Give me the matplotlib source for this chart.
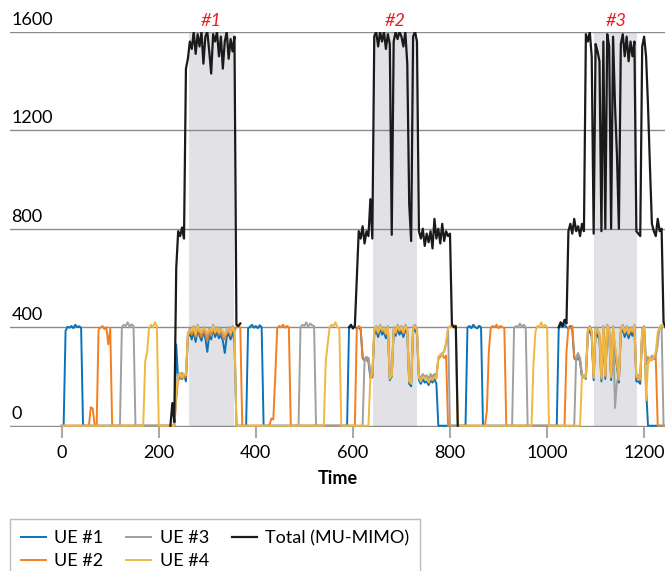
import numpy as np
import matplotlib
matplotlib.use("Agg")
import matplotlib.pyplot as plt

# samples every 4 time units, 0 .. 1244
time = np.arange(0, 1248, 4)

ue1 = [
    0, 0, 385, 402, 398, 405, 396, 410, 400, 404,        # 0
    398, 0, 0, 0, 0, 0, 0, 0, 0, 0,                      # 40
    0, 0, 0, 0, 0, 0, 0, 0, 0, 0,                        # 80
    0, 0, 0, 0, 0, 0, 0, 0, 0, 0,                        # 120
    0, 0, 0, 0, 0, 0, 0, 0, 0, 0,                        # 160
    0, 0, 0, 0, 0, 0, 0, 0, 0, 330,                      # 200
    185, 200, 190, 205, 180, 360, 375, 350, 385, 340,    # 240
    390, 365, 345, 380, 355, 300, 370, 350, 395, 360,    # 280
    380, 355, 370, 345, 295, 360, 375, 350, 385, 340,    # 320
    0, 0, 0, 0, 0, 0, 395, 402, 410, 398,                # 360
    405, 396, 408, 400, 0, 0, 0, 0, 0, 0,                # 400
    0, 0, 0, 0, 0, 0, 0, 0, 0, 0,                        # 440
    0, 0, 0, 0, 0, 0, 0, 0, 0, 0,                        # 480
    0, 0, 0, 0, 0, 0, 0, 0, 0, 0,                        # 520
    0, 0, 0, 0, 0, 0, 0, 0, 395, 405,                    # 560
    398, 402, 395, 400, 390, 275, 265, 270, 260, 195,    # 600
    200, 370, 385, 360, 395, 370, 380, 355, 390, 185,    # 640
    200, 380, 365, 395, 370, 385, 360, 390, 375, 170,    # 680
    160, 380, 395, 370, 185, 170, 190, 175, 180, 165,    # 720
    185, 175, 190, 170, 0, 0, 0, 0, 0, 0,                # 760
    0, 0, 0, 0, 0, 0, 0, 0, 0, 398,                      # 800
    405, 396, 410, 400, 395, 406, 400, 0, 0, 0,          # 840
    0, 0, 0, 0, 0, 0, 0, 0, 0, 0,                        # 880
    0, 0, 0, 0, 0, 0, 0, 0, 0, 0,                        # 920
    0, 0, 0, 0, 0, 0, 0, 0, 0, 0,                        # 960
    0, 0, 0, 0, 0, 0, 395, 405, 400, 410,                # 1000
    400, 395, 405, 390, 275, 265, 280, 260, 195, 205,    # 1040
    190, 370, 390, 360, 185, 380, 365, 350, 180, 385,    # 1080
    190, 395, 370, 185, 385, 300, 240, 175, 375, 390,    # 1120
    360, 385, 355, 380, 365, 390, 180, 180, 170, 375,    # 1160
    390, 150, 0, 0, 0, 0, 0, 0, 0, 0,                    # 1200
    0, 0,                                                # 1240
]

ue2 = [
    0, 0, 0, 0, 0, 0, 0, 0, 0, 0,                        # 0
    0, 0, 0, 0, 0, 75, 70, 0, 0, 390,                    # 40
    398, 405, 392, 400, 330, 395, 0, 0, 0, 0,            # 80
    0, 0, 0, 0, 0, 0, 0, 0, 0, 0,                        # 120
    0, 0, 0, 0, 0, 0, 0, 0, 0, 0,                        # 160
    0, 0, 0, 0, 0, 0, 0, 0, 0, 100,                      # 200
    205, 190, 210, 195, 200, 365, 385, 370, 395, 360,    # 240
    400, 375, 360, 390, 370, 345, 385, 365, 400, 375,    # 280
    390, 370, 385, 360, 350, 380, 390, 365, 395, 385,    # 320
    400, 410, 398, 0, 0, 0, 0, 0, 0, 0,                  # 360
    0, 0, 0, 0, 0, 0, 0, 0, 30, 25,                      # 400
    200, 395, 405, 400, 410, 398, 405, 400, 0, 0,        # 440
    0, 0, 0, 0, 0, 0, 0, 0, 0, 0,                        # 480
    0, 0, 0, 0, 0, 0, 0, 0, 0, 0,                        # 520
    0, 0, 0, 0, 0, 0, 0, 0, 0, 0,                        # 560
    0, 0, 390, 405, 398, 280, 270, 265, 275, 205,        # 600
    195, 380, 395, 375, 400, 385, 390, 370, 395, 195,    # 640
    205, 390, 375, 400, 385, 395, 375, 400, 385, 185,    # 680
    175, 390, 400, 385, 200, 185, 205, 190, 195, 180,    # 720
    200, 190, 205, 195, 270, 280, 290, 275, 285, 0,      # 760
    0, 0, 0, 0, 0, 0, 0, 0, 0, 0,                        # 800
    0, 0, 0, 0, 0, 0, 0, 0, 0, 60,                       # 840
    300, 398, 405, 400, 410, 396, 405, 400, 398, 0,      # 880
    0, 0, 0, 0, 0, 0, 0, 0, 0, 0,                        # 920
    0, 0, 0, 0, 0, 0, 0, 0, 0, 0,                        # 960
    0, 0, 0, 0, 0, 0, 0, 0, 0, 0,                        # 1000
    300, 400, 395, 405, 280, 270, 285, 265, 205, 195,    # 1040
    200, 380, 400, 375, 195, 390, 380, 365, 190, 395,    # 1080
    200, 400, 385, 195, 395, 320, 250, 185, 385, 400,    # 1120
    375, 395, 370, 390, 380, 400, 195, 195, 185, 385,    # 1160
    395, 250, 280, 265, 280, 270, 275, 0, 0, 0,          # 1200
    0, 0,                                                # 1240
]

ue3 = [
    0, 0, 0, 0, 0, 0, 0, 0, 0, 0,                        # 0
    0, 0, 0, 0, 0, 0, 0, 0, 0, 0,                        # 40
    0, 0, 0, 0, 0, 0, 0, 0, 0, 0,                        # 80
    0, 400, 410, 405, 420, 400, 412, 405, 0, 0,          # 120
    0, 0, 0, 0, 0, 0, 0, 0, 0, 0,                        # 160
    0, 0, 0, 0, 0, 0, 0, 0, 0, 120,                      # 200
    210, 200, 215, 205, 210, 375, 395, 380, 405, 375,    # 240
    410, 390, 375, 400, 385, 360, 395, 380, 410, 390,    # 280
    400, 385, 395, 375, 365, 390, 400, 380, 405, 395,    # 320
    0, 0, 0, 0, 0, 0, 0, 0, 0, 0,                        # 360
    0, 0, 0, 0, 0, 0, 0, 0, 0, 0,                        # 400
    0, 0, 0, 0, 0, 0, 0, 0, 0, 0,                        # 440
    0, 0, 0, 400, 410, 405, 420, 400, 415, 408,          # 480
    405, 0, 0, 0, 0, 0, 0, 0, 0, 0,                      # 520
    0, 0, 0, 0, 0, 0, 0, 0, 0, 0,                        # 560
    0, 0, 0, 0, 0, 0, 270, 280, 275, 210,                # 600
    205, 390, 405, 385, 410, 395, 400, 380, 405, 200,    # 640
    210, 400, 385, 410, 395, 405, 385, 410, 395, 190,    # 680
    180, 400, 410, 395, 205, 195, 210, 200, 205, 190,    # 720
    210, 200, 210, 205, 275, 285, 295, 300, 330, 400,    # 760
    0, 0, 0, 0, 0, 0, 0, 0, 0, 0,                        # 800
    0, 0, 0, 0, 0, 0, 0, 0, 0, 0,                        # 840
    0, 0, 0, 0, 0, 0, 0, 0, 0, 0,                        # 880
    0, 0, 0, 395, 405, 400, 415, 402, 410, 400,          # 920
    0, 0, 0, 0, 0, 0, 0, 0, 0, 0,                        # 960
    0, 0, 0, 0, 0, 0, 0, 0, 0, 0,                        # 1000
    0, 0, 0, 0, 0, 280, 295, 275, 210, 200,              # 1040
    210, 390, 405, 385, 200, 400, 390, 375, 200, 405,    # 1080
    210, 410, 395, 205, 405, 72, 180, 195, 395, 410,     # 1120
    385, 405, 380, 400, 390, 410, 205, 205, 195, 395,    # 1160
    405, 260, 275, 270, 285, 275, 280, 330, 400, 410,    # 1200
    0, 0,                                                # 1240
]

ue4 = [
    0, 0, 0, 0, 0, 0, 0, 0, 0, 0,                        # 0
    0, 0, 0, 0, 0, 0, 0, 0, 0, 0,                        # 40
    0, 0, 0, 0, 0, 0, 0, 0, 0, 0,                        # 80
    0, 0, 0, 0, 0, 0, 0, 0, 0, 0,                        # 120
    0, 0, 0, 260, 300, 395, 410, 400, 420, 405,          # 160
    0, 0, 0, 0, 0, 0, 0, 0, 0, 150,                      # 200
    200, 215, 195, 210, 205, 370, 390, 385, 400, 370,    # 240
    405, 385, 380, 395, 390, 375, 390, 385, 405, 380,    # 280
    395, 380, 390, 385, 370, 385, 395, 375, 400, 380,    # 320
    0, 0, 0, 0, 0, 0, 0, 0, 0, 0,                        # 360
    0, 0, 0, 0, 0, 0, 0, 0, 0, 0,                        # 400
    0, 0, 0, 0, 0, 0, 0, 0, 0, 0,                        # 440
    0, 0, 0, 0, 0, 0, 0, 0, 0, 0,                        # 480
    0, 0, 0, 0, 0, 0, 260, 330, 400, 410,                # 520
    405, 420, 400, 395, 0, 0, 0, 0, 0, 0,                # 560
    0, 0, 0, 0, 0, 0, 0, 0, 0, 200,                      # 600
    215, 395, 400, 380, 405, 390, 395, 375, 400, 190,    # 640
    205, 395, 380, 405, 390, 400, 380, 405, 390, 180,    # 680
    170, 395, 405, 390, 195, 180, 200, 190, 195, 175,    # 720
    195, 185, 200, 190, 280, 290, 285, 305, 340, 395,    # 760
    405, 400, 410, 398, 0, 0, 0, 0, 0, 0,                # 800
    0, 0, 0, 0, 0, 0, 0, 0, 0, 0,                        # 840
    0, 0, 0, 0, 0, 0, 0, 0, 0, 0,                        # 880
    0, 0, 0, 0, 0, 0, 0, 0, 0, 0,                        # 920
    0, 0, 0, 250, 380, 405, 400, 420, 400, 410,          # 960
    400, 0, 0, 0, 0, 0, 0, 0, 0, 0,                      # 1000
    0, 0, 0, 0, 0, 0, 0, 0, 200, 205,                    # 1040
    195, 385, 400, 380, 195, 395, 385, 370, 195, 400,    # 1080
    205, 405, 390, 200, 400, 330, 260, 190, 390, 405,    # 1120
    380, 400, 375, 395, 385, 405, 200, 200, 190, 390,    # 1160
    400, 103, 250, 275, 265, 280, 300, 380, 400, 410,    # 1200
    400, 405,                                            # 1240
]

N = None
total = [
    N, N, N, N, N, N, N, N, N, N,                                  # 0
    N, N, N, N, N, N, N, N, N, N,                                  # 40
    N, N, N, N, N, N, N, N, N, N,                                  # 80
    N, N, N, N, N, N, N, N, N, N,                                  # 120
    N, N, N, N, N, N, N, N, N, N,                                  # 160
    N, N, N, N, N, N, 0, 92, 15, 640,                              # 200
    790, 770, 805, 760, 1450, 1490, 1560, 1530, 1600, 1510,        # 240
    1590, 1540, 1600, 1470, 1580, 1600, 1520, 1430, 1590, 1560,    # 280
    1600, 1500, 1580, 1450, 1560, 1600, 1490, 1570, 1520, 1580,    # 320
    410, 405, 415, N, N, N, N, N, N, N,                            # 360
    N, N, N, N, N, N, N, N, N, N,                                  # 400
    N, N, N, N, N, N, N, N, N, N,                                  # 440
    N, N, N, N, N, N, N, N, N, N,                                  # 480
    N, N, N, N, N, N, N, N, N, N,                                  # 520
    N, N, N, N, N, N, N, N, 400, 410,                              # 560
    395, 405, 600, 790, 760, 810, 740, 790, 770, 920,              # 600
    760, 1580, 1600, 1540, 1600, 1560, 1600, 1530, 1590, 1550,     # 640
    775, 1560, 1600, 1570, 1600, 1580, 1540, 1600, 1470, 900,      # 680
    750, 1580, 1600, 1560, 790, 760, 800, 730, 780, 745,           # 720
    790, 720, 840, 760, 800, 740, 820, 750, 790, 770,              # 760
    780, 410, 400, 405, 0, N, N, N, N, N,                          # 800
    N, N, N, N, N, N, N, N, N, N,                                  # 840
    N, N, N, N, N, N, N, N, N, N,                                  # 880
    N, N, N, N, N, N, N, N, N, N,                                  # 920
    N, N, N, N, N, N, N, N, N, N,                                  # 960
    N, N, N, N, N, N, 400, 420, 405, 430,                          # 1000
    415, 790, 820, 780, 840, 790, 810, 770, 820, 790,              # 1040
    1590, 1560, 1600, 1500, 780, 1550, 1520, 1480, 790, 1560,      # 1080
    800, 1590, 1540, 800, 1580, 1300, 1100, 800, 1550, 1590,       # 1120
    1500, 1580, 1480, 1560, 1500, 1560, 790, 780, 770, 1540,       # 1160
    1580, 1500, 1300, 1050, 820, 790, 770, 840, 790, 800,          # 1200
    420, 400,                                                      # 1240
]

series = [("UE #1", ue1, "#0a72bb"), ("UE #2", ue2, "#f47f20"),
          ("UE #3", ue3, "#a0a0a0"), ("UE #4", ue4, "#f0b840")]

mimo_windows = [(262, 354), (642, 733), (1097, 1186)]
window_labels = ["#1", "#2", "#3"]
yticks = [0, 400, 800, 1200, 1600]
xticks = [0, 200, 400, 600, 800, 1000, 1200]

plt.rcParams["font.family"] = ["Lato", "DejaVu Sans"]

fig = plt.figure(figsize=(6.65, 5.71), dpi=100)
W, H = 665, 571
ax = fig.add_axes([10 / W, 1 - 427.2 / H, 655 / W, 395.5 / H])
ax.set_xlim(-106.5, 1243)
ax.set_ylim(-6, 1600)

for (a, b), lbl in zip(mimo_windows, window_labels):
    ax.axvspan(a, b, ymin=6 / 1606, ymax=1, color="#e1e1e6", lw=0, zorder=0)
    ax.annotate(lbl, xy=((a + b) / 2, 1600), xytext=(0, 4), textcoords="offset points",
                ha="center", va="baseline", color="#ec1c24", fontstyle="italic",
                fontsize=13, annotation_clip=False)

for v in yticks:
    ax.axhline(v, color="#8c8c8c", lw=1.0, zorder=1)
    ax.annotate(str(v), xy=(0, v), xycoords=("axes fraction", "data"), xytext=(1, 5),
                textcoords="offset points", ha="left", va="baseline", fontsize=13)

for i, (name, vals, col) in enumerate(series):
    ax.plot(time, vals, color=col, lw=1.4, label=name, zorder=3 + i * 0.1)
ax.plot(time, np.array(total, dtype=float), color="#1a1a1a", lw=1.6,
        label="Total (MU-MIMO)", zorder=4)

for s in ax.spines.values():
    s.set_visible(False)
ax.set_yticks([])
ax.set_xticks(xticks)
ax.tick_params(axis="x", length=8, width=1.5, color="#aaaaaa", labelsize=13, pad=5)

fig.text(337.5 / W, 1 - 478 / H, "Time", ha="center", va="center",
         fontweight="bold", fontsize=13)

fig.legend(loc="upper left", bbox_to_anchor=(10 / W, 1 - 519 / H), ncol=3,
           frameon=True, fancybox=False, edgecolor="#aaaaaa", fontsize=13,
           handlelength=1.38, handletextpad=0.45, columnspacing=1.3,
           borderaxespad=0, borderpad=0.6, labelspacing=0.38)

fig.savefig("out.png", dpi=100)
